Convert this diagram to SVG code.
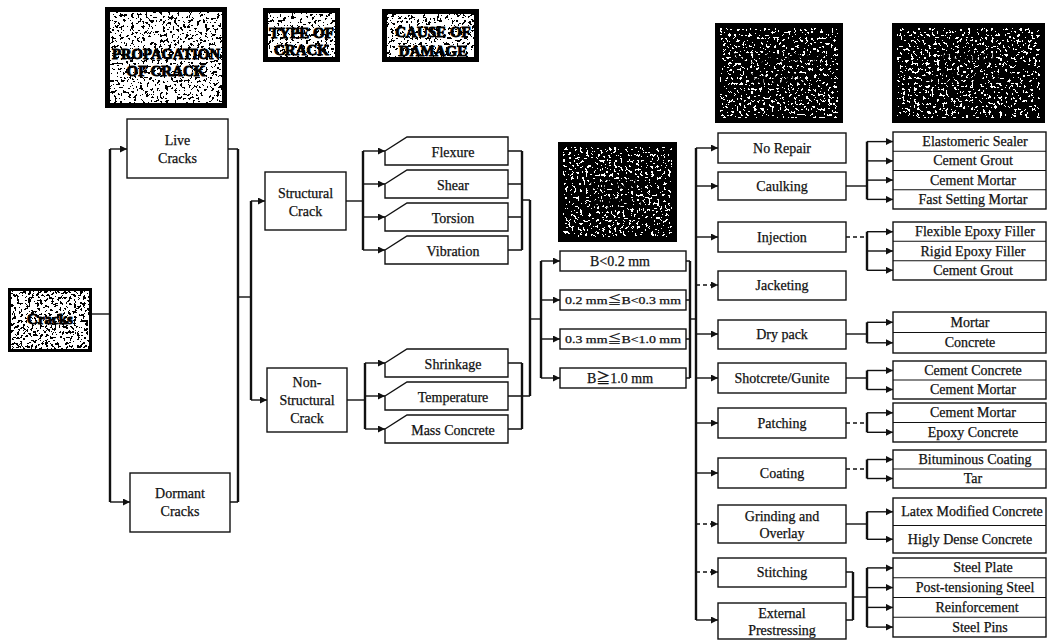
<svg xmlns="http://www.w3.org/2000/svg" width="1048" height="642" viewBox="0 0 1048 642">
  <defs>
    <style>
      .box { fill: #fff; stroke: #111; stroke-width: 1.4; }
      .sep { stroke: #111; stroke-width: 1.1; fill: none; }
      .ln { stroke: #111; stroke-width: 1.4; fill: none; }
      .br { stroke: #111; stroke-width: 2.4; fill: none; }
      .dash { stroke-dasharray: 4 3; }
      .arr { stroke: #111; stroke-width: 1.4; fill: none; marker-end: url(#tip); }
      .lbl { font-family: "Liberation Serif", "Noto Sans CJK JP", serif; font-size: 14px; fill: #111; stroke: #111; stroke-width: 0.25; text-anchor: middle; dominant-baseline: central; }
      .sm { font-size: 11px; }
      .hd { font-family: "Liberation Serif", serif; font-weight: bold; font-size: 15px; fill: #000; stroke: #000; stroke-width: 0.9; text-anchor: middle; dominant-baseline: central; }
      .hdframe { fill: none; stroke: #000; stroke-width: 5; }
      .hddark { font-family: "Liberation Serif", serif; font-weight: bold; font-size: 15px; fill: #000; stroke: #fff; stroke-width: 0.6; stroke-opacity: 0.5; text-anchor: middle; dominant-baseline: central; }
    </style>
    <marker id="tip" markerUnits="userSpaceOnUse" markerWidth="8" markerHeight="8" refX="7" refY="3.5" orient="auto">
      <path d="M0,0 L7,3.5 L0,7 z" fill="#111"/>
    </marker>
    <!-- grainy print textures: black specks of varying density over the source -->
    <filter id="speckLight" x="0" y="0" width="1" height="1" color-interpolation-filters="sRGB">
      <feTurbulence type="fractalNoise" baseFrequency="0.35" numOctaves="3" seed="4" result="n"/>
      <feColorMatrix in="n" type="matrix" values="0 0 0 0 0  0 0 0 0 0  0 0 0 0 0  -4 0 0 0 2.1" result="m"/>
      <feComponentTransfer in="m" result="t"><feFuncA type="discrete" tableValues="0 1"/></feComponentTransfer>
      <feComposite in="t" in2="SourceAlpha" operator="in" result="c"/>
      <feMerge><feMergeNode in="SourceGraphic"/><feMergeNode in="c"/></feMerge>
    </filter>
    <filter id="speckMid" x="0" y="0" width="1" height="1" color-interpolation-filters="sRGB">
      <feTurbulence type="fractalNoise" baseFrequency="0.35" numOctaves="3" seed="11" result="n"/>
      <feColorMatrix in="n" type="matrix" values="0 0 0 0 0  0 0 0 0 0  0 0 0 0 0  -4 0 0 0 2.2" result="m"/>
      <feComponentTransfer in="m" result="t"><feFuncA type="discrete" tableValues="0 1"/></feComponentTransfer>
      <feComposite in="t" in2="SourceAlpha" operator="in" result="c"/>
      <feMerge><feMergeNode in="SourceGraphic"/><feMergeNode in="c"/></feMerge>
    </filter>
    <filter id="speckDark" x="0" y="0" width="1" height="1" color-interpolation-filters="sRGB">
      <feTurbulence type="fractalNoise" baseFrequency="0.35" numOctaves="3" seed="23" result="n"/>
      <feColorMatrix in="n" type="matrix" values="0 0 0 0 0  0 0 0 0 0  0 0 0 0 0  -4 0 0 0 3.05" result="m"/>
      <feComponentTransfer in="m" result="t"><feFuncA type="discrete" tableValues="0 1"/></feComponentTransfer>
      <feComposite in="t" in2="SourceAlpha" operator="in" result="c"/>
      <feMerge><feMergeNode in="SourceGraphic"/><feMergeNode in="c"/></feMerge>
    </filter>
  </defs>

  <rect width="1048" height="642" fill="#fff"/>

  <!-- column headings -->
  <g id="hdr-propagation">
    <rect x="105" y="7" width="122" height="101" fill="#fff" filter="url(#speckLight)"/>
    <text class="hd" x="166" y="54" textLength="108" lengthAdjust="spacingAndGlyphs">PROPAGATION</text>
    <text class="hd" x="166" y="71">OF CRACK</text>
    <rect class="hdframe" x="107.5" y="9.5" width="117" height="96"/>
  </g>
  <g id="hdr-type">
    <rect x="263" y="8" width="77" height="54" fill="#fff" filter="url(#speckLight)"/>
    <text class="hd" x="301.5" y="33">TYPE OF</text>
    <text class="hd" x="301.5" y="50">CRACK</text>
    <rect class="hdframe" x="265.5" y="10.5" width="72" height="49"/>
  </g>
  <g id="hdr-cause">
    <rect x="382" y="9" width="97" height="53" fill="#fff" filter="url(#speckLight)"/>
    <text class="hd" x="433" y="32">CAUSE OF</text>
    <text class="hd" x="433" y="51">DAMAGE</text>
    <rect class="hdframe" x="384.5" y="11.5" width="92" height="48"/>
  </g>
  <g id="hdr-width">
    <g filter="url(#speckDark)">
      <rect x="558" y="142" width="119" height="100" fill="#fff"/>
      <text class="hddark" x="617.5" y="184">CRACK</text>
      <text class="hddark" x="617.5" y="203">WIDTH</text>
    </g>
    <rect class="hdframe" x="560.5" y="144.5" width="114" height="95"/>
  </g>
  <g id="hdr-method">
    <g filter="url(#speckDark)">
      <rect x="715" y="23" width="128" height="100" fill="#fff"/>
      <text class="hddark" x="779" y="58">METHOD OF</text>
      <text class="hddark" x="779" y="78">REPAIR</text>
    </g>
    <rect class="hdframe" x="717.5" y="25.5" width="123" height="95"/>
  </g>
  <g id="hdr-material">
    <g filter="url(#speckDark)">
      <rect x="892" y="23" width="153" height="100" fill="#fff"/>
      <text class="hddark" x="968.5" y="58">REPAIR</text>
      <text class="hddark" x="968.5" y="78">MATERIALS</text>
    </g>
    <rect class="hdframe" x="894.5" y="25.5" width="148" height="95"/>
  </g>

  <!-- root node -->
  <g id="cracks">
    <rect x="8" y="288" width="84" height="64" fill="#fff" filter="url(#speckMid)"/>
    <text class="hd" x="50" y="319">Cracks</text>
    <rect x="9.5" y="289.5" width="81" height="61" fill="none" stroke="#000" stroke-width="3"/>
  </g>

  <!-- propagation -->
  <g id="live-cracks">
    <rect class="box" x="127" y="119" width="101" height="59"/>
    <text class="lbl" x="177.5" y="140">Live</text>
    <text class="lbl" x="177.5" y="158">Cracks</text>
  </g>
  <g id="dormant-cracks">
    <rect class="box" x="130" y="473" width="100" height="59"/>
    <text class="lbl" x="180" y="493">Dormant</text>
    <text class="lbl" x="180" y="511">Cracks</text>
  </g>

  <!-- type -->
  <g id="structural">
    <rect class="box" x="265" y="172" width="81" height="58"/>
    <text class="lbl" x="305.5" y="193">Structural</text>
    <text class="lbl" x="305.5" y="211">Crack</text>
  </g>
  <g id="non-structural">
    <rect class="box" x="267" y="368" width="80" height="64"/>
    <text class="lbl" x="307" y="382">Non-</text>
    <text class="lbl" x="307" y="400">Structural</text>
    <text class="lbl" x="307" y="418">Crack</text>
  </g>

  <!-- cause (chamfered tabs) -->
  <g id="flexure">
    <polygon class="box" points="385,151 407,137 508,137 508,165 385,165"/>
    <text class="lbl" x="453" y="152">Flexure</text>
  </g>
  <g id="shear">
    <polygon class="box" points="385,184 407,170 508,170 508,198 385,198"/>
    <text class="lbl" x="453" y="185">Shear</text>
  </g>
  <g id="torsion">
    <polygon class="box" points="385,217 407,203 508,203 508,231 385,231"/>
    <text class="lbl" x="453" y="218">Torsion</text>
  </g>
  <g id="vibration">
    <polygon class="box" points="385,250 407,236 508,236 508,264 385,264"/>
    <text class="lbl" x="453" y="251">Vibration</text>
  </g>
  <g id="shrinkage">
    <polygon class="box" points="385,363 407,349 508,349 508,377 385,377"/>
    <text class="lbl" x="453" y="364">Shrinkage</text>
  </g>
  <g id="temperature">
    <polygon class="box" points="385,396 407,382 508,382 508,410 385,410"/>
    <text class="lbl" x="453" y="397">Temperature</text>
  </g>
  <g id="mass-concrete">
    <polygon class="box" points="385,429 407,415 508,415 508,443 385,443"/>
    <text class="lbl" x="453" y="430">Mass Concrete</text>
  </g>

  <!-- crack width -->
  <g id="w1">
    <rect class="box" x="560" y="251" width="126" height="20"/>
    <text class="lbl" x="620" y="261">B&lt;0.2 mm</text>
  </g>
  <g id="w2">
    <rect class="box" x="560" y="290" width="126" height="20"/>
    <text class="lbl sm" x="623" y="300" textLength="116" lengthAdjust="spacingAndGlyphs">0.2 mm≦B&lt;0.3 mm</text>
  </g>
  <g id="w3">
    <rect class="box" x="560" y="329" width="126" height="20"/>
    <text class="lbl sm" x="623" y="339" textLength="116" lengthAdjust="spacingAndGlyphs">0.3 mm≦B&lt;1.0 mm</text>
  </g>
  <g id="w4">
    <rect class="box" x="560" y="368" width="126" height="20"/>
    <text class="lbl" x="620" y="378">B≧1.0 mm</text>
  </g>

  <!-- repair methods -->
  <g id="m-no-repair"><rect class="box" x="718" y="133" width="128" height="30"/><text class="lbl" x="782" y="148">No Repair</text></g>
  <g id="m-caulking"><rect class="box" x="718" y="172" width="128" height="28"/><text class="lbl" x="782" y="186">Caulking</text></g>
  <g id="m-injection"><rect class="box" x="718" y="222" width="128" height="30"/><text class="lbl" x="782" y="237">Injection</text></g>
  <g id="m-jacketing"><rect class="box" x="718" y="271" width="128" height="29"/><text class="lbl" x="782" y="285">Jacketing</text></g>
  <g id="m-dry-pack"><rect class="box" x="718" y="320" width="128" height="29"/><text class="lbl" x="782" y="334">Dry pack</text></g>
  <g id="m-shotcrete"><rect class="box" x="718" y="363" width="128" height="30"/><text class="lbl" x="782" y="378">Shotcrete/Gunite</text></g>
  <g id="m-patching"><rect class="box" x="718" y="408" width="128" height="30"/><text class="lbl" x="782" y="423">Patching</text></g>
  <g id="m-coating"><rect class="box" x="718" y="458" width="128" height="30"/><text class="lbl" x="782" y="473">Coating</text></g>
  <g id="m-grinding"><rect class="box" x="718" y="505" width="128" height="38"/><text class="lbl" x="782" y="516">Grinding and</text><text class="lbl" x="782" y="533">Overlay</text></g>
  <g id="m-stitching"><rect class="box" x="718" y="558" width="128" height="29"/><text class="lbl" x="782" y="572">Stitching</text></g>
  <g id="m-external"><rect class="box" x="718" y="603" width="128" height="36"/><text class="lbl" x="782" y="613">External</text><text class="lbl" x="782" y="630">Prestressing</text></g>

  <!-- repair materials -->
  <g id="mat-caulking">
    <rect class="box" x="893" y="132" width="153" height="77"/>
    <path class="sep" d="M893,151.25H1046M893,170.5H1046M893,189.75H1046"/>
    <text class="lbl" x="975" y="141.6">Elastomeric Sealer</text>
    <text class="lbl" x="973" y="160.9">Cement Grout</text>
    <text class="lbl" x="973" y="180.1">Cement Mortar</text>
    <text class="lbl" x="973" y="199.4">Fast Setting Mortar</text>
  </g>
  <g id="mat-injection">
    <rect class="box" x="893" y="222" width="153" height="58"/>
    <path class="sep" d="M893,241.3H1046M893,260.7H1046"/>
    <text class="lbl" x="975" y="231.7">Flexible Epoxy Filler</text>
    <text class="lbl" x="973" y="251">Rigid Epoxy Filler</text>
    <text class="lbl" x="973" y="270.3">Cement Grout</text>
  </g>
  <g id="mat-drypack">
    <rect class="box" x="893" y="312" width="153" height="41"/>
    <path class="sep" d="M893,332.5H1046"/>
    <text class="lbl" x="970" y="322.3">Mortar</text>
    <text class="lbl" x="970" y="342.8">Concrete</text>
  </g>
  <g id="mat-shotcrete">
    <rect class="box" x="893" y="361" width="153" height="38"/>
    <path class="sep" d="M893,380H1046"/>
    <text class="lbl" x="973" y="370.5">Cement Concrete</text>
    <text class="lbl" x="973" y="389.5">Cement Mortar</text>
  </g>
  <g id="mat-patching">
    <rect class="box" x="893" y="403" width="153" height="39"/>
    <path class="sep" d="M893,422.5H1046"/>
    <text class="lbl" x="973" y="412.8">Cement Mortar</text>
    <text class="lbl" x="973" y="432.3">Epoxy Concrete</text>
  </g>
  <g id="mat-coating">
    <rect class="box" x="893" y="450" width="153" height="38"/>
    <path class="sep" d="M893,469H1046"/>
    <text class="lbl" x="975" y="459.5">Bituminous Coating</text>
    <text class="lbl" x="973" y="478.5">Tar</text>
  </g>
  <g id="mat-overlay">
    <rect class="box" x="893" y="498" width="153" height="55"/>
    <path class="sep" d="M893,525.5H1046"/>
    <text class="lbl" x="972" y="511.8">Latex Modified Concrete</text>
    <text class="lbl" x="970" y="539.3">Higly Dense Concrete</text>
  </g>
  <g id="mat-steel">
    <rect class="box" x="893" y="558" width="153" height="79"/>
    <path class="sep" d="M893,577.75H1046M893,597.5H1046M893,617.25H1046"/>
    <text class="lbl" x="983" y="567.9">Steel Plate</text>
    <text class="lbl" x="975" y="587.6">Post-tensioning Steel</text>
    <text class="lbl" x="977" y="607.4">Reinforcement</text>
    <text class="lbl" x="980" y="627.1">Steel Pins</text>
  </g>

  <!-- connectors -->
  <g id="connectors">
    <!-- cracks to propagation -->
    <path class="ln" d="M92,314H110"/>
    <path class="br" d="M110,149V502"/>
    <path class="arr" d="M110,149H127"/>
    <path class="arr" d="M110,502H130"/>
    <path class="ln" d="M228,149H238M230,502H238"/>
    <path class="br" d="M238,149V502"/>
    <path class="ln" d="M238,297H251"/>
    <!-- propagation to type -->
    <path class="br" d="M251,201V400"/>
    <path class="arr" d="M251,201H265"/>
    <path class="arr" d="M251,400H267"/>
    <!-- type to cause -->
    <path class="ln" d="M346,201H363"/>
    <path class="br" d="M363,151V250"/>
    <path class="arr" d="M363,151H385"/>
    <path class="arr" d="M363,184H385"/>
    <path class="arr" d="M363,217H385"/>
    <path class="arr" d="M363,250H385"/>
    <path class="ln" d="M347,400H365"/>
    <path class="br" d="M365,363V429"/>
    <path class="arr" d="M365,363H385"/>
    <path class="arr" d="M365,396H385"/>
    <path class="arr" d="M365,429H385"/>
    <!-- cause to width -->
    <path class="ln" d="M508,151H522M508,184H522M508,217H522M508,250H522"/>
    <path class="br" d="M522,151V250"/>
    <path class="ln" d="M508,363H522M508,396H522M508,429H522"/>
    <path class="br" d="M522,363V429"/>
    <path class="ln" d="M522,200H530M522,396H530"/>
    <path class="br" d="M530,200V396"/>
    <path class="ln" d="M530,319H541"/>
    <path class="br" d="M541,261V378"/>
    <path class="arr" d="M541,261H560"/>
    <path class="arr" d="M541,300H560"/>
    <path class="arr" d="M541,339H560"/>
    <path class="arr" d="M541,378H560"/>
    <!-- width to methods -->
    <path class="ln" d="M686,261H690M686,300H690M686,339H690M686,378H690"/>
    <path class="br" d="M690,261V378"/>
    <path class="ln" d="M690,319H696"/>
    <path class="br" d="M696,148V620"/>
    <path class="arr" d="M696,148H718"/>
    <path class="arr" d="M696,186H718"/>
    <path class="arr" d="M696,237H718"/>
    <path class="arr dash" d="M696,285H718"/>
    <path class="arr" d="M696,334H718"/>
    <path class="arr" d="M696,378H718"/>
    <path class="arr" d="M696,423H718"/>
    <path class="arr" d="M696,473H718"/>
    <path class="arr dash" d="M696,524H718"/>
    <path class="arr dash" d="M696,572H718"/>
    <path class="arr" d="M696,620H718"/>
    <!-- methods to materials -->
    <path class="ln" d="M846,186H867"/>
    <path class="br" d="M867,141.6V199.4"/>
    <path class="arr" d="M867,141.6H893"/>
    <path class="arr" d="M867,160.9H893"/>
    <path class="arr" d="M867,180.1H893"/>
    <path class="arr" d="M867,199.4H893"/>

    <path class="ln dash" d="M846,237H867"/>
    <path class="br" d="M867,231.7V270.3"/>
    <path class="arr" d="M867,231.7H893"/>
    <path class="arr" d="M867,251H893"/>
    <path class="arr" d="M867,270.3H893"/>

    <path class="ln" d="M846,334H867"/>
    <path class="br" d="M867,322.3V342.8"/>
    <path class="arr" d="M867,322.3H893"/>
    <path class="arr" d="M867,342.8H893"/>

    <path class="ln" d="M846,378H867"/>
    <path class="br" d="M867,370.5V389.5"/>
    <path class="arr" d="M867,370.5H893"/>
    <path class="arr" d="M867,389.5H893"/>

    <path class="ln dash" d="M846,423H867"/>
    <path class="br" d="M867,412.8V432.3"/>
    <path class="arr" d="M867,412.8H893"/>
    <path class="arr" d="M867,432.3H893"/>

    <path class="ln dash" d="M846,469H867"/>
    <path class="br" d="M867,459.5V478.5"/>
    <path class="arr" d="M867,459.5H893"/>
    <path class="arr" d="M867,478.5H893"/>

    <path class="ln" d="M846,524H867"/>
    <path class="br" d="M867,511.8V539.3"/>
    <path class="arr" d="M867,511.8H893"/>
    <path class="arr" d="M867,539.3H893"/>

    <path class="ln" d="M846,572H853M846,620H853"/>
    <path class="br" d="M853,572V620"/>
    <path class="ln" d="M853,597H867"/>
    <path class="br" d="M867,567.9V627.1"/>
    <path class="arr" d="M867,567.9H893"/>
    <path class="arr" d="M867,587.6H893"/>
    <path class="arr" d="M867,607.4H893"/>
    <path class="arr" d="M867,627.1H893"/>
  </g>
</svg>
